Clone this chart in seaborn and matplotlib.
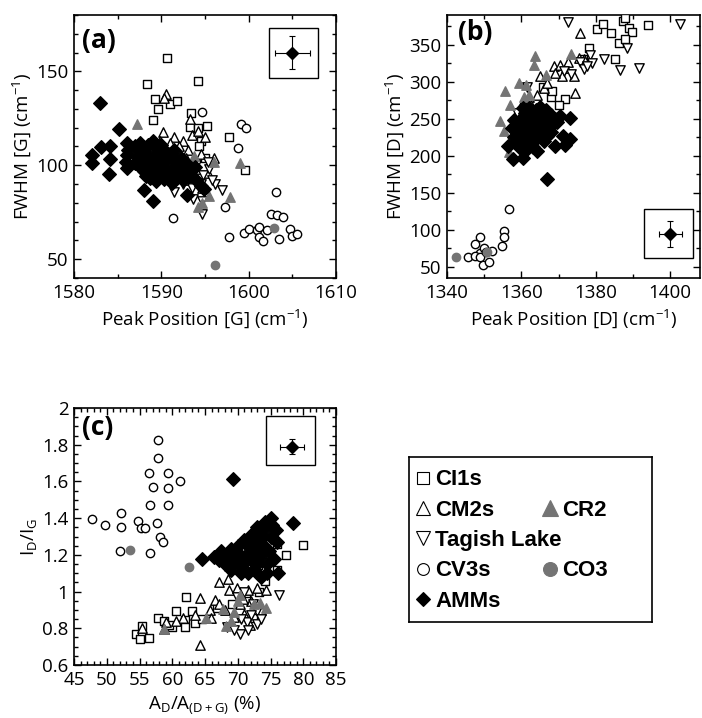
import matplotlib
matplotlib.use("Agg")
import numpy as np
import pandas as pd
import matplotlib.pyplot as plt
from matplotlib.patches import Rectangle
from matplotlib.lines import Line2D
from matplotlib.ticker import MultipleLocator, FuncFormatter
import seaborn as sns

# ---------------- (a) G band: peak position vs FWHM ----------------
a_ci1_x = [1590.7, 1588.4, 1594.2, 1589.3, 1589.6, 1591.0, 1591.8, 1589.1, 1593.4,
           1593.3, 1594.2, 1595.2, 1597.7, 1599.6, 1594.5, 1594.3, 1595.0]
a_ci1_y = [157, 143.5, 145, 135.5, 130, 132.5, 134.3, 124, 128,
           120.5, 120, 121, 115, 97.6, 113, 110, 104]
a_cm2_x = [1590.5, 1590.3, 1593.3, 1590.2, 1591.5, 1592.5, 1593.5, 1594.2, 1595.0, 1592.0, 1593.0,
           1594.5, 1591.0, 1589.8, 1593.8, 1595.3, 1594.0, 1592.8, 1591.5, 1596.0, 1594.7, 1593.0]
a_cm2_y = [138, 136, 124.5, 117.5, 115, 113, 116, 118, 115, 110, 108,
           106, 112, 113, 102, 96, 98, 104, 106, 104, 88, 92]
a_cr2_x = [1587.2, 1596.0, 1599.0, 1597.9, 1595.5, 1594.6, 1593.7, 1591.5, 1594.2]
a_cr2_y = [122, 102, 101, 83, 83.5, 80, 105, 108, 78]
a_tag_x = [1594.7, 1594.6, 1593.6, 1596.1, 1596.9, 1592.5, 1591.2, 1593.2, 1594.8, 1595.5,
           1593.5, 1592.0, 1594.0, 1595.8, 1591.5, 1590.8, 1593.0, 1594.5, 1595.3, 1592.3]
a_tag_y = [74, 81, 82, 90, 87, 90, 92, 93, 95, 98, 88, 96, 100, 92, 86, 96, 98, 90, 102, 101]
a_cv3_x = [1599.1, 1599.7, 1598.8, 1603.1, 1597.3, 1597.7, 1599.5, 1600.0, 1600.9, 1601.2, 1601.2,
           1601.6, 1602.1, 1602.5, 1603.2, 1603.9, 1603.5, 1604.7, 1605.0, 1605.5, 1594.6, 1591.3]
a_cv3_y = [122, 120, 109, 86, 78, 62, 64, 66, 65.5, 67.3, 62,
           59.5, 65.5, 74, 73.4, 72.4, 61, 66, 62.3, 63.6, 128.5, 72]
a_co3_x = [1602.9, 1596.2]
a_co3_y = [66.8, 46.8]
a_amm_x = [1583.0, 1585.1, 1582.1, 1582.1, 1583.1, 1584.1, 1584.1, 1584.0, 1586.1, 1586.1, 1586.1,
           1588.0, 1589.1, 1592.9, 1594.9, 1586.2, 1586.0, 1594.5, 1593.1,
           1587.0, 1587.5, 1588.0, 1588.5, 1589.0, 1589.5, 1590.0, 1590.5, 1587.2, 1587.8, 1588.3,
           1588.8, 1589.3, 1589.8, 1590.3, 1590.8, 1591.3, 1591.8, 1592.3, 1592.8, 1593.3, 1593.8,
           1587.5, 1588.0, 1588.5, 1589.0, 1589.5, 1590.0, 1590.5, 1591.0, 1591.5, 1592.0, 1592.5,
           1588.7, 1589.4, 1590.3, 1591.2, 1593.0, 1594.0, 1591.5, 1592.2, 1587.0, 1588.2]
a_amm_y = [133, 119.5, 105.5, 101, 109.5, 110, 103.5, 95.5, 111.7, 105.4, 98.5,
           87, 81, 84.4, 87.5, 108, 102, 88.8, 98.7,
           110, 112, 108, 111, 113, 109, 111, 107, 105, 103, 105.5,
           102, 106, 104, 102, 105, 103, 100, 98, 101, 97, 99,
           99, 97, 99.5, 96, 98.5, 95, 98, 96.5, 93, 95, 92,
           93, 91.5, 92.5, 90.5, 94, 92, 108, 104, 101, 94.5]

# ---------------- (b) D band: peak position vs FWHM ----------------
b_ci1_x = [1380.2, 1382.0, 1384.1, 1386.3, 1387.4, 1387.8, 1389.0, 1389.7, 1387.8, 1394.1,
           1385.2, 1378.3, 1371.7, 1370.2, 1368.0, 1365.9, 1368.2, 1364.0, 1376.5]
b_ci1_y = [371, 378, 366, 352, 382, 386, 372, 367, 358, 377,
           330, 345, 276, 268, 279, 293, 288, 262, 330]
b_cm2_x = [1375.7, 1368.7, 1370.5, 1372.1, 1366.0, 1374.3, 1364.2, 1362.0, 1358.4, 1365.1,
           1374.1, 1375.4, 1376.7, 1370.9, 1360.5, 1367.0, 1362.5, 1369.0, 1372.5, 1359.0]
b_cm2_y = [366, 321, 323, 318, 291, 285, 282, 279, 252, 307,
           307, 332, 330, 307, 272, 298, 268, 312, 326, 248]
b_cr2_x = [1363.7, 1363.5, 1355.7, 1359.3, 1361.3, 1366.7, 1373.2, 1357.0, 1354.2, 1355.4,
           1360.6, 1362.0, 1356.7]
b_cr2_y = [334, 323, 288, 298, 296, 309, 337, 268, 247, 233, 279, 282, 205]
b_tag_x = [1372.6, 1402.5, 1388.3, 1386.5, 1391.5, 1382.3, 1378.5, 1379.0, 1375.8, 1376.7,
           1373.2, 1361.5, 1358.8, 1371.5, 1377.5]
b_tag_y = [380, 378, 345.5, 316, 318.6, 330, 336.5, 325, 327, 317.6,
           310, 292.7, 257.7, 314, 321]
b_cv3_x = [1356.6, 1355.2, 1355.2, 1354.8, 1349.0, 1347.6, 1349.0, 1350.0, 1345.6, 1347.4,
           1349.6, 1351.2, 1352.1, 1349.0, 1350.6]
b_cv3_y = [128, 99, 91, 78, 91, 81, 69, 75, 64, 65, 52, 57, 71, 64, 70]
b_co3_x = [1342.3, 1350.8]
b_co3_y = [63.5, 70.5]
b_amm_x = [1366.8, 1373.1, 1373.1, 1371.3, 1371.7, 1369.0, 1364.3, 1360.5, 1357.8, 1356.5,
           1369.5, 1370.5,
           1358.0, 1359.0, 1360.0, 1361.0, 1362.0, 1363.0, 1364.0, 1365.0, 1366.0, 1367.0, 1368.0,
           1369.0, 1358.5, 1359.5, 1360.5, 1361.5, 1362.5, 1363.5, 1364.5, 1365.5, 1366.5, 1367.5,
           1360.0, 1361.0, 1362.0, 1363.0, 1364.0, 1365.0, 1366.0, 1367.0, 1368.0, 1362.0, 1361.0,
           1363.0, 1359.0, 1360.5, 1365.0, 1366.5, 1364.0, 1362.5, 1365.8, 1367.0, 1357.5, 1358.0]
b_amm_y = [168, 251, 223, 227, 215, 213.5, 206, 197, 195, 212.6,
           245, 253,
           225, 232, 238, 244, 250, 256, 262, 258, 252, 248, 255,
           250, 218, 210, 222, 228, 234, 240, 246, 240, 234, 238,
           250, 258, 264, 228, 222, 228, 220, 226, 232, 215, 206,
           212, 240, 265, 266, 262, 232, 244, 246, 242, 238, 248]

# ---------------- (c) intensity ratio vs area ratio ----------------
c_ci1_x = [80.0, 77.3, 76.0, 74.1, 74.9, 74.5, 76.0, 62.1, 60.6, 63.0, 61.9, 63.5, 60.0, 57.8,
           58.7, 54.5, 55.4, 55.0, 56.5, 55.4, 62.0, 73.1, 71.3, 73.2, 69.1, 66.8, 72.3, 59.5, 64.5]
c_ci1_y = [1.253, 1.20, 1.115, 1.057, 1.213, 1.16, 1.26, 0.97, 0.894, 0.894, 0.846, 0.827, 0.805,
           0.855, 0.841, 0.77, 0.761, 0.743, 0.747, 0.814, 0.805, 1.145, 0.991, 1.0, 0.93, 0.91,
           0.858, 0.82, 0.85]
c_cm2_x = [64.2, 67.2, 68.5, 68.6, 69.9, 71.5, 72.9, 74.3, 66.5, 67.1, 65.7, 65.9, 64.2, 61.6,
           59.0, 58.7, 55.4, 70.4, 69.5, 71.0, 72.0, 70.8, 68.0, 73.5, 71.8, 63.5, 60.5]
c_cm2_y = [0.965, 1.05, 1.071, 1.009, 1.018, 1.009, 1.018, 1.01, 0.956, 0.93, 0.897, 0.858, 0.708,
           0.855, 0.832, 0.797, 0.802, 0.93, 0.86, 0.88, 0.95, 0.96, 0.90, 0.90, 0.82, 0.87, 0.84]
c_cr2_x = [74.3, 73.4, 70.0, 67.8, 65.1, 58.7, 68.2, 68.9, 69.4, 70.4, 72.5]
c_cr2_y = [0.911, 0.938, 0.95, 0.903, 0.858, 0.797, 0.814, 0.841, 0.89, 0.982, 0.935]
c_tag_x = [76.3, 73.0, 70.4, 69.4, 68.3, 71.4, 69.9, 72.3, 72.9, 71.0, 70.5, 72.0, 73.5, 71.5]
c_tag_y = [0.982, 0.823, 0.77, 0.788, 0.805, 0.832, 0.973, 0.93, 0.894, 1.0, 0.85, 0.87, 0.85, 0.79]
c_cv3_x = [57.9, 57.9, 56.4, 59.3, 57.0, 59.4, 61.2, 56.6, 59.3, 47.7, 49.8, 52.2, 52.2, 54.8,
           55.2, 55.8, 57.7, 58.1, 58.6, 52.0, 56.6]
c_cv3_y = [1.826, 1.726, 1.646, 1.646, 1.572, 1.566, 1.602, 1.474, 1.474, 1.398, 1.363, 1.428,
           1.354, 1.384, 1.345, 1.349, 1.372, 1.297, 1.269, 1.221, 1.209]
c_co3_x = [53.6, 62.5]
c_co3_y = [1.227, 1.136]
c_amm_x = [69.2, 78.5, 75.9, 75.0, 64.5, 66.3, 74.2, 73.0,
           67.5, 68.0, 68.5, 69.0, 69.5, 70.0, 70.5, 71.0, 71.5, 72.0, 72.5, 73.0, 73.5, 74.0,
           74.5, 75.0, 70.0, 71.0, 72.0, 73.0, 74.0, 71.5, 72.5, 73.5, 70.5, 69.0, 68.0, 74.5,
           75.5, 76.0, 72.0, 71.0, 73.0, 70.0, 69.5, 72.8, 73.8, 74.8, 67.2, 75.2, 76.2]
c_amm_y = [1.611, 1.372, 1.333, 1.402, 1.177, 1.189, 1.38, 1.35,
           1.22, 1.20, 1.18, 1.23, 1.16, 1.21, 1.14, 1.19, 1.25, 1.17, 1.22, 1.28, 1.20, 1.25,
           1.15, 1.30, 1.25, 1.28, 1.31, 1.32, 1.34, 1.10, 1.12, 1.08, 1.10, 1.12, 1.15, 1.10,
           1.18, 1.27, 1.21, 1.16, 1.15, 1.18, 1.19, 1.26, 1.30, 1.22, 1.17, 1.36, 1.10]

# Representative uncertainty shown in each panel's inset box
err_x = [1605.0, 1400.0, 78.3]
err_y = [160.0, 95.0, 1.79]
err_dx = [2.0, 3.1, 1.8]
err_dy = [9.0, 17.5, 0.04]

GROUPS = ["CI1s", "CM2s", "CR2", "Tagish Lake", "CV3s", "CO3", "AMMs"]
series = {
    "a": [a_ci1_x, a_cm2_x, a_cr2_x, a_tag_x, a_cv3_x, a_co3_x, a_amm_x],
    "b": [b_ci1_x, b_cm2_x, b_cr2_x, b_tag_x, b_cv3_x, b_co3_x, b_amm_x],
    "c": [c_ci1_x, c_cm2_x, c_cr2_x, c_tag_x, c_cv3_x, c_co3_x, c_amm_x],
}
series_y = {
    "a": [a_ci1_y, a_cm2_y, a_cr2_y, a_tag_y, a_cv3_y, a_co3_y, a_amm_y],
    "b": [b_ci1_y, b_cm2_y, b_cr2_y, b_tag_y, b_cv3_y, b_co3_y, b_amm_y],
    "c": [c_ci1_y, c_cm2_y, c_cr2_y, c_tag_y, c_cv3_y, c_co3_y, c_amm_y],
}
rows = []
for panel in series:
    for grp, xs, ys in zip(GROUPS, series[panel], series_y[panel]):
        for xv, yv in zip(xs, ys):
            rows.append((panel, grp, xv, yv))
df = pd.DataFrame(rows, columns=["panel", "group", "x", "y"])

GRAY = "#747474"
STYLE = {
    "CI1s":        dict(marker="s", s=36, color="white", edgecolor="black"),
    "CM2s":        dict(marker="^", s=46, color="white", edgecolor="black"),
    "CR2":         dict(marker="^", s=46, color=GRAY, edgecolor=GRAY),
    "Tagish Lake": dict(marker="v", s=46, color="white", edgecolor="black"),
    "CV3s":        dict(marker="o", s=36, color="white", edgecolor="black"),
    "CO3":         dict(marker="o", s=36, color=GRAY, edgecolor=GRAY),
    "AMMs":        dict(marker="D", s=48, color="black", edgecolor="black"),
}
DRAW_ORDER = ["CI1s", "CM2s", "Tagish Lake", "CV3s", "CR2", "CO3", "AMMs"]

sns.set_theme(style="ticks")
plt.rcParams["font.family"] = ["Open Sans", "DejaVu Sans"]
plt.rcParams["mathtext.fontset"] = "custom"
plt.rcParams["mathtext.rm"] = "Open Sans"
plt.rcParams["mathtext.it"] = "Open Sans:italic"
plt.rcParams["mathtext.bf"] = "Open Sans:bold"
plt.rcParams["axes.edgecolor"] = "black"
plt.rcParams["xtick.color"] = "black"
plt.rcParams["ytick.color"] = "black"
plt.rcParams["text.color"] = "black"
plt.rcParams["axes.labelcolor"] = "black"

W, H = 702, 718
fig = plt.figure(figsize=(W / 100, H / 100), dpi=100)


def px_axes(left, top, right, bottom):
    return fig.add_axes([left / W, 1 - bottom / H, (right - left) / W, (bottom - top) / H])


ax_a = px_axes(74, 15, 336, 278)
ax_b = px_axes(447, 15, 700, 278)
ax_c = px_axes(74, 408, 336, 665)

panels = {
    "a": dict(ax=ax_a, xlim=(1580, 1610), ylim=(40, 180), xmaj=10, xmin=5, ymaj=50, ymin=10,
              xlabel="Peak Position [G] (cm$^{-1}$)", ylabel="FWHM [G] (cm$^{-1}$)", xpad=4,
              tag="(a)", tagpos=(0.03, 0.955), box=(0.744, 0.760, 0.187, 0.191)),
    "b": dict(ax=ax_b, xlim=(1340, 1408), ylim=(35, 390), xmaj=20, xmin=10, ymaj=50, ymin=25,
              xlabel="Peak Position [D] (cm$^{-1}$)", ylabel="FWHM [D] (cm$^{-1}$)", xpad=4,
              tag="(b)", tagpos=(0.043, 0.985), box=(0.779, 0.076, 0.193, 0.186)),
    "c": dict(ax=ax_c, xlim=(45, 85), ylim=(0.6, 2.0), xmaj=5, xmin=1, ymaj=0.2, ymin=0.05,
              xlabel="A$_\\mathrm{D}$/A$_\\mathrm{(D+G)}$ (%)", ylabel="I$_\\mathrm{D}$/I$_\\mathrm{G}$",
              xpad=4, tag="(c)", tagpos=(0.03, 0.975), box=(0.733, 0.780, 0.187, 0.190)),
}

fmt_g = FuncFormatter(lambda v, _: f"{v:g}")

for i, (key, cfg) in enumerate(panels.items()):
    ax = cfg["ax"]
    sub = df[df["panel"] == key]
    for grp in DRAW_ORDER:
        d = sub[sub["group"] == grp]
        st = STYLE[grp]
        sns.scatterplot(data=d, x="x", y="y", ax=ax, marker=st["marker"], s=st["s"],
                        color=st["color"], edgecolor=st["edgecolor"], linewidth=1.0,
                        legend=False, zorder=3)
    ax.set_xlim(*cfg["xlim"])
    ax.set_ylim(*cfg["ylim"])
    ax.xaxis.set_major_locator(MultipleLocator(cfg["xmaj"]))
    ax.xaxis.set_minor_locator(MultipleLocator(cfg["xmin"]))
    ax.yaxis.set_major_locator(MultipleLocator(cfg["ymaj"]))
    ax.yaxis.set_minor_locator(MultipleLocator(cfg["ymin"]))
    ax.xaxis.set_major_formatter(fmt_g)
    ax.yaxis.set_major_formatter(fmt_g)
    ax.tick_params(which="both", direction="in", top=True, right=True, width=1.0,
                   labelsize=13.5, pad=4)
    ax.tick_params(which="major", length=5)
    ax.tick_params(which="minor", length=3)
    for sp in ax.spines.values():
        sp.set_linewidth(1.2)
        sp.set_color("black")
    ax.set_xlabel(cfg["xlabel"], fontsize=13.5, labelpad=cfg["xpad"])
    ax.set_ylabel(cfg["ylabel"], fontsize=13.5, labelpad=2)
    ax.text(*cfg["tagpos"], cfg["tag"], transform=ax.transAxes, fontsize=19,
            fontweight="bold", ha="left", va="top", zorder=5)
    bx, by, bw, bh = cfg["box"]
    ax.add_patch(Rectangle((bx, by), bw, bh, transform=ax.transAxes, fill=False,
                           lw=1.0, ec="black", zorder=4))
    ax.errorbar([err_x[i]], [err_y[i]], xerr=[err_dx[i]], yerr=[err_dy[i]], fmt="D",
                color="black", ms=6.5, capsize=2.5, elinewidth=0.8, capthick=0.8, zorder=5)

# ---------------- legend panel ----------------
leg_ax = px_axes(409, 457, 652, 622)
leg_ax.set_xticks([])
leg_ax.set_yticks([])
for sp in leg_ax.spines.values():
    sp.set_linewidth(1.2)
    sp.set_color("black")


def handle(grp, ms):
    st = STYLE[grp]
    return Line2D([], [], ls="none", marker=st["marker"], ms=ms, mfc=st["color"],
                  mec=st["edgecolor"], mew=0.8)


blank = Line2D([], [], ls="none", marker=None)
leg_prop = dict(family="Liberation Sans", weight="bold", size=16)
leg_kw = dict(loc="upper left", frameon=False, prop=leg_prop, handlelength=0.6,
              handletextpad=0.24, labelspacing=0.42, borderpad=0, borderaxespad=0)

col1 = ["CI1s", "CM2s", "Tagish Lake", "CV3s", "AMMs"]
col1_ms = [9, 10, 10, 8.5, 7.6]
leg1 = leg_ax.legend([handle(g, m) for g, m in zip(col1, col1_ms)], col1,
                     bbox_to_anchor=(0.031, 0.925), **leg_kw)
leg_ax.add_artist(leg1)
leg2 = leg_ax.legend([blank, handle("CR2", 11), blank, handle("CO3", 10), blank],
                     ["", "CR2", "", "CO3", ""],
                     bbox_to_anchor=(0.554, 0.925), **leg_kw)

fig.savefig("out.png", dpi=100)
